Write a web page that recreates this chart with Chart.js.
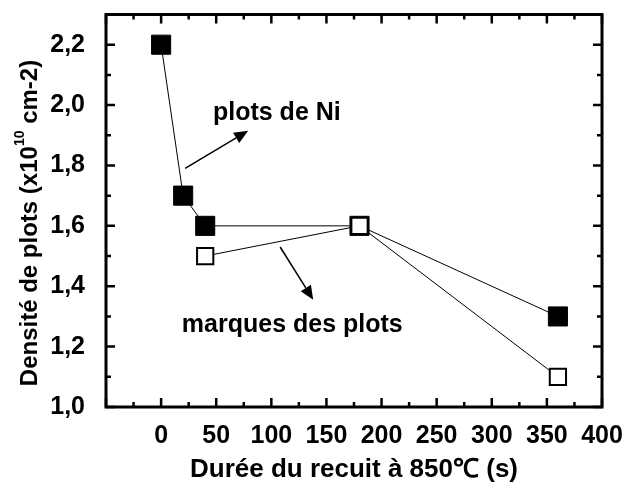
<!DOCTYPE html>
<html>
<head>
<meta charset="utf-8">
<script src="https://cdn.jsdelivr.net/npm/chart.js@4.4.0/dist/chart.umd.min.js"></script>
<style>
  html, body { margin: 0; padding: 0; background: #fff; }
  #wrap { width: 622px; height: 486px; }
</style>
</head>
<body>
<div id="wrap"><canvas id="chartPlots" width="622" height="486"></canvas></div>
<script>
// durée du recuit (s) et densité (x10^10 cm-2)
const tempsNi = [0, 20, 40, 180, 360];
const densiteNi = [2.2, 1.7, 1.6, 1.6, 1.3];
const tempsMarques = [40, 180, 360];
const densiteMarques = [1.5, 1.6, 1.1];

const xTickValues = [-50, 0, 50, 100, 150, 200, 250, 300, 350, 400];
const yTickValues = [1.0, 1.2, 1.4, 1.6, 1.8, 2.0, 2.2];

const FONT = "'Liberation Sans', Arial, sans-serif";

// ticks vers l'intérieur, cadre, flèches et textes
const framePlugin = {
  id: "frame",
  afterDatasetsDraw(chart) {
    const c = chart.ctx;
    const a = chart.chartArea;
    const xs = chart.scales.x;
    const ys = chart.scales.y;
    c.save();
    c.strokeStyle = "#000";
    c.lineCap = "butt";

    // ticks
    c.lineWidth = 2.5;
    for (let v = -50; v <= 400; v += 25) {
      const px = xs.getPixelForValue(v);
      const len = v % 50 === 0 ? 9 : 5;
      c.beginPath();
      c.moveTo(px, a.bottom); c.lineTo(px, a.bottom - len);
      c.moveTo(px, a.top); c.lineTo(px, a.top + len);
      c.stroke();
    }
    for (let i = 0; i <= 13; i++) {
      const v = 1 + i * 0.1;
      const py = ys.getPixelForValue(v);
      const len = i % 2 === 0 ? 9 : 5;
      c.beginPath();
      c.moveTo(a.left, py); c.lineTo(a.left + len, py);
      c.moveTo(a.right, py); c.lineTo(a.right - len, py);
      c.stroke();
    }

    // cadre
    c.lineWidth = 3;
    c.strokeRect(a.left, a.top, a.right - a.left, a.bottom - a.top);

    // flèches
    const arrow = (x0, y0, x1, y1) => {
      const p0 = [xs.getPixelForValue(x0), ys.getPixelForValue(y0)];
      const p1 = [xs.getPixelForValue(x1), ys.getPixelForValue(y1)];
      const ang = Math.atan2(p1[1] - p0[1], p1[0] - p0[0]);
      const hl = 14, hw = 6;
      c.lineWidth = 1.5;
      c.beginPath();
      c.moveTo(p0[0], p0[1]);
      c.lineTo(p1[0] - Math.cos(ang) * hl, p1[1] - Math.sin(ang) * hl);
      c.stroke();
      c.beginPath();
      c.moveTo(p1[0], p1[1]);
      c.lineTo(p1[0] - Math.cos(ang) * hl - Math.sin(ang) * hw, p1[1] - Math.sin(ang) * hl + Math.cos(ang) * hw);
      c.lineTo(p1[0] - Math.cos(ang) * hl + Math.sin(ang) * hw, p1[1] - Math.sin(ang) * hl - Math.cos(ang) * hw);
      c.closePath();
      c.fillStyle = "#000";
      c.fill();
    };
    arrow(21.8, 1.79, 79, 1.915);
    arrow(108, 1.53, 138, 1.355);

    // textes
    c.fillStyle = "#000";
    c.font = "bold 25px " + FONT;
    c.textAlign = "center";
    c.textBaseline = "middle";
    c.fillText("plots de Ni", xs.getPixelForValue(105), ys.getPixelForValue(1.975));
    c.fillText("marques des plots", xs.getPixelForValue(119), ys.getPixelForValue(1.27));

    // titre de l'axe y avec exposant
    c.translate(30, 223);
    c.rotate(-Math.PI / 2);
    const parts = [
      ["Densité de plots (x10", "bold 24px " + FONT, 0],
      ["10", "bold 14px " + FONT, -10],
      [" cm-2)", "bold 24px " + FONT, 0],
    ];
    let total = 0;
    parts.forEach(p => { c.font = p[1]; total += c.measureText(p[0]).width; });
    let x = -total / 2;
    c.textAlign = "left";
    parts.forEach(p => {
      c.font = p[1];
      c.fillText(p[0], x, p[2]);
      x += c.measureText(p[0]).width;
    });
    c.restore();
  },
};

new Chart(document.getElementById("chartPlots"), {
  type: "line",
  data: {
    datasets: [
      {
        label: "plots de Ni",
        data: tempsNi.map((t, i) => ({ x: t, y: densiteNi[i] })),
        borderColor: "#000",
        borderWidth: 1,
        backgroundColor: "#000",
        pointStyle: "rect",
        pointRadius: 13.5,
        pointBorderWidth: 1,
        pointBackgroundColor: "#000",
        pointBorderColor: "#000",
        tension: 0,
        order: 2,
      },
      {
        label: "marques des plots",
        data: tempsMarques.map((t, i) => ({ x: t, y: densiteMarques[i] })),
        borderColor: "#000",
        borderWidth: 1,
        backgroundColor: "#fff",
        pointStyle: "rect",
        pointRadius: 11.5,
        pointBorderWidth: 2,
        pointBackgroundColor: "#fff",
        pointBorderColor: "#000",
        tension: 0,
        order: 1,
      },
    ],
  },
  options: {
    responsive: false,
    animation: false,
    layout: { padding: { top: 14, right: 20, left: 0, bottom: 0 } },
    plugins: {
      legend: { display: false },
      tooltip: { enabled: false },
    },
    scales: {
      x: {
        type: "linear",
        min: -50,
        max: 400,
        afterBuildTicks: s => { s.ticks = xTickValues.map(v => ({ value: v })); },
        afterFit: s => { s.height = 79; s.paddingLeft = 0; s.paddingRight = 0; },
        grid: { display: false },
        border: { display: false },
        ticks: {
          color: "#000",
          padding: 6,
          maxRotation: 0,
          autoSkip: false,
          font: { family: FONT, size: 25, weight: "bold" },
          callback: v => (v < 0 ? "" : String(v)),
        },
        title: {
          display: true,
          text: "Durée du recuit à 850℃ (s)",
          color: "#000",
          font: { family: FONT, size: 26, weight: "bold" },
          padding: { top: 0, bottom: 1 },
        },
      },
      y: {
        type: "linear",
        min: 1.0,
        max: 2.3,
        afterBuildTicks: s => { s.ticks = yTickValues.map(v => ({ value: v })); },
        afterFit: s => { s.width = 106; s.paddingTop = 0; s.paddingBottom = 0; },
        grid: { display: false },
        border: { display: false },
        ticks: {
          color: "#000",
          padding: 13,
          font: { family: FONT, size: 25, weight: "bold" },
          callback: v => Number(v).toFixed(1).replace(".", ","),
        },
      },
    },
  },
  plugins: [framePlugin],
});
</script>
</body>
</html>
